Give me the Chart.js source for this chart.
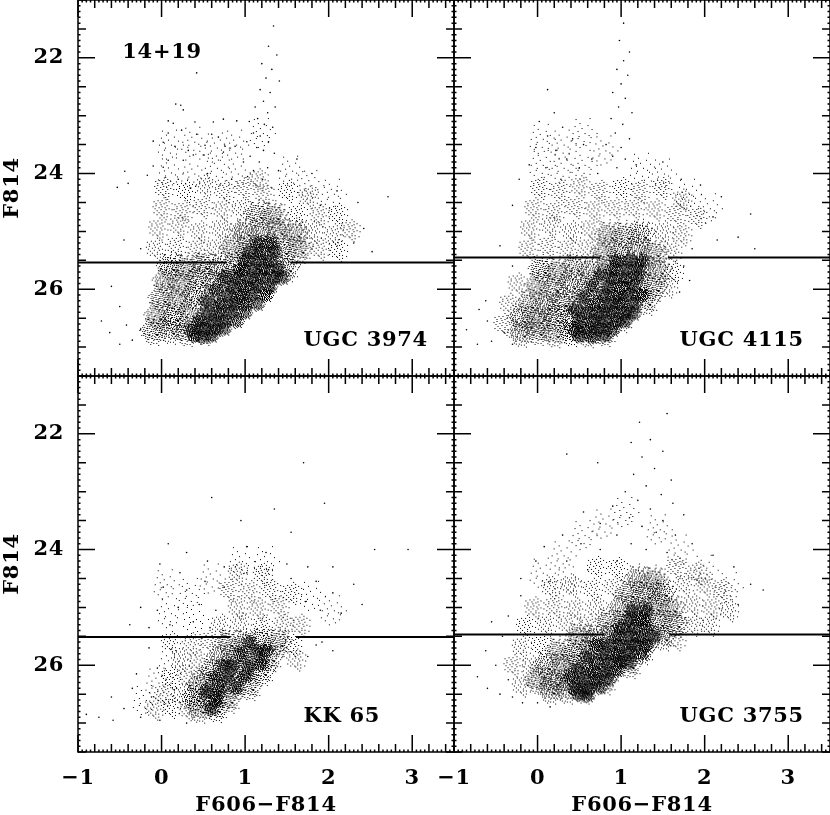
<!DOCTYPE html>
<html>
<head>
<meta charset="utf-8">
<title>F606-F814 vs F814</title>
<script src="https://cdn.jsdelivr.net/npm/chart.js@4"></script>
<style>
  html, body { margin: 0; background: #fff; }
  #wrap { position: relative; width: 830px; height: 815px; overflow: hidden; }
  canvas { position: absolute; left: 0; top: 0; }
</style>
</head>
<body>
<div id="wrap">
  <canvas id="c0" width="830" height="815"></canvas>
  <canvas id="c1" width="830" height="815"></canvas>
  <canvas id="c2" width="830" height="815"></canvas>
  <canvas id="c3" width="830" height="815"></canvas>
</div>
<script>
const xTickLabels = [-1, 0, 1, 2, 3];
const yTickLabels = [22, 24, 26];
const xTitle = "F606\u2212F814";
const yTitle = "F814";

// single stars, [colour, mag]
const dotsUGC3974 = [[1.34,21.45],[1.28,21.8],[1.38,21.95],[1.2,22.1],[1.32,22.2],[1.25,22.35],[1.41,22.4],[1.18,22.55],[1.3,22.6],[1.22,22.75],[1.12,22.85],[1.36,22.85],[1.27,22.95],[1.15,23.05],[1.05,23.1],[1.23,23.15],[1.33,23.2],[1.1,23.3],[1.18,23.35],[1.02,23.45],[1.28,23.45],[1.14,23.55],[1.22,23.6],[1.06,23.7],[1.35,23.65],[0.98,23.8],[1.17,23.8],[1.27,23.9],[1.1,23.95],[1.4,23.95],[1.03,24.05],[1.21,24.1],[1.13,24.2],[1.32,24.25],[0.42,22.26],[0.17,22.8],[0.23,22.82],[0.26,22.9],[0.08,23.09],[0.14,23.13],[0.4,23.11],[0.62,23.11],[0.74,23.06],[0.9,23.09],[0.08,23.3],[0.24,23.25],[0.42,23.32],[0.6,23.32],[0.68,23.37],[-0.1,23.44],[0.02,23.46],[0.16,23.53],[0.32,23.6],[0.52,23.51],[0.76,23.53],[0.88,23.53],[0.38,23.68],[0.5,23.68],[0.08,23.77],[-0.1,23.87],[0.26,23.77],[0.02,23.89],[-0.44,23.96],[-0.17,24.03],[-0.4,24.17],[-0.53,24.24],[0.55,24],[0.7,24.2],[0.2,24.1],[0.35,24.25],[0.84,24.1],[2.71,24.4],[2.35,24.5],[2.1,24.3],[1.8,24],[1.62,23.75],[1.9,24.55],[2.42,24.95],[2.3,25.2],[2.52,25.35],[-0.45,25.15],[-0.25,25.3],[-0.6,25.95],[-0.5,26.3],[-0.72,26.55],[-0.62,26.75],[-0.42,26.62],[-0.35,26.88],[-0.5,26.95],[-0.25,26.7]];
const sparseUGC3974 = [[0.1,23.5],[0.38,23.45],[0.65,23.55],[0.88,23.5],[0.1,23.98],[0.38,24],[0.65,23.9],[0.9,24],[1.2,23.3],[1.55,23.95],[1.78,24.2],[2.05,24.35]];
const faintUGC3974 = [[0.02,24.25],[0.28,24.3],[0.52,24.22],[0.75,24.3],[0.98,24.25],[1.22,24.35],[1.5,24.3],[1.75,24.4],[0,24.6],[0.25,24.65],[0.48,24.58],[0.72,24.62],[0.95,24.6],[1.62,24.7],[1.88,24.72],[2.1,24.7],[-0.05,24.95],[0.2,24.9],[0.45,25],[0.7,24.95],[0.88,25],[1.8,25],[2.05,25.05],[2.25,24.98],[-0.08,25.3],[0.17,25.25],[0.42,25.3],[0.65,25.28],[1.88,25.3],[2.1,25.32],[1.15,24.1]];
const midUGC3974 = [[-0.1,26.72],[0.1,26.7],[0.3,26.74],[0.5,26.72],[-0.05,26.45],[0.15,26.48],[0.35,26.42],[0.55,26.47],[0.75,26.45],[0,26.15],[0.2,26.18],[0.4,26.12],[0.6,26.16],[0.8,26.14],[1,26.15],[0.05,25.85],[0.25,25.88],[0.45,25.82],[0.65,25.86],[0.85,25.84],[1.05,25.85],[1.25,25.88],[0.1,25.6],[0.3,25.62],[0.5,25.58],[0.7,25.62],[0.9,25.6],[1.1,25.58],[1.3,25.62],[1.5,25.62],[0.85,25.3],[1.05,25.32],[1.25,25.28],[1.45,25.32],[1.65,25.3],[1,25],[1.2,25.02],[1.4,24.98],[1.6,25.02],[1.15,24.7],[1.35,24.72]];
const darkUGC3974 = [[0.4,26.8],[0.5,26.82],[0.6,26.8],[0.35,26.7],[0.5,26.68],[0.65,26.7],[0.75,26.68],[0.45,26.55],[0.6,26.56],[0.75,26.54],[0.9,26.55],[0.55,26.4],[0.7,26.42],[0.85,26.38],[1,26.4],[0.7,26.25],[0.85,26.26],[1,26.24],[1.15,26.25],[0.8,26.1],[0.95,26.12],[1.1,26.08],[1.25,26.1],[0.85,25.95],[1,25.96],[1.15,25.94],[1.3,25.95],[0.9,25.8],[1.05,25.82],[1.2,25.78],[1.35,25.8],[1.45,25.8],[0.95,25.65],[1.1,25.66],[1.25,25.64],[1.4,25.65],[1,25.5],[1.15,25.5],[1.3,25.52],[1.05,25.35],[1.2,25.36],[1.35,25.34],[1.15,25.2],[1.3,25.2],[0.55,26.2],[0.65,26],[0.75,25.8]];

const dotsUGC4115 = [[1.03,21.4],[0.98,21.7],[1.1,21.9],[1.03,22.05],[0.95,22.2],[1.08,22.3],[1.0,22.45],[0.9,22.6],[1.05,22.7],[0.97,22.85],[1.13,22.95],[0.88,23.05],[1.02,23.15],[0.93,23.3],[1.1,23.4],[0.82,23.5],[1,23.55],[0.9,23.7],[1.05,23.75],[1.18,23.85],[0.95,23.9],[0.12,22.55],[0.2,22.95],[0.02,23.1],[0.3,23.2],[0.12,23.35],[0.42,23.4],[-0.02,23.55],[0.22,23.6],[0.55,23.5],[0.35,23.75],[-0.1,23.85],[0.1,23.9],[0.5,23.9],[0.65,23.75],[0.72,24],[-0.22,24.1],[0.28,24.1],[-0.3,24.55],[1.5,23.8],[1.72,24.1],[1.95,24.2],[2.2,24.4],[2.55,24.7],[2.1,24.75],[2.4,25.1],[2.15,25.15],[1.85,25.3],[2.6,25.3],[-0.45,25.25],[-0.3,25.6],[-0.7,26.35],[-0.85,26.7],[-0.6,26.55],[-0.55,26.9],[-0.4,26.75],[-0.72,26.95],[-0.3,26.95],[-0.62,26.2],[1.75,25.6],[1.82,25.85],[1.7,26.05]];
const sparseUGC4115 = [[0.05,23.4],[0.3,23.5],[0.55,23.3],[0.8,23.6],[0.05,23.85],[0.3,23.9],[0.55,23.85],[1.25,23.9],[1.5,24],[1.8,24.35],[2.05,24.6]];
const faintUGC4115 = [[0.02,24.25],[0.26,24.3],[0.5,24.22],[0.74,24.3],[1,24.25],[1.22,24.3],[1.48,24.25],[1.72,24.45],[-0.05,24.6],[0.2,24.65],[0.44,24.58],[0.68,24.62],[0.92,24.6],[1.15,24.6],[1.4,24.62],[1.65,24.7],[1.9,24.75],[-0.1,24.95],[0.15,24.9],[0.4,25],[0.62,24.95],[1.5,25],[1.72,25.05],[-0.12,25.3],[0.12,25.25],[0.36,25.3],[0.6,25.28],[1.6,25.35],[-0.25,25.9],[-0.35,26.25],[-0.42,26.6],[1.62,25.7],[1.55,25.95]];
const midUGC4115 = [[-0.2,26.75],[0,26.72],[0.2,26.76],[0.4,26.74],[0.6,26.76],[0.8,26.74],[-0.2,26.5],[0,26.52],[0.2,26.48],[0.4,26.5],[0.6,26.5],[0.8,26.52],[1,26.5],[-0.1,26.25],[0.1,26.28],[0.3,26.22],[0.5,26.26],[0.7,26.24],[0.9,26.26],[1.1,26.24],[1.3,26.2],[0,25.95],[0.2,25.98],[0.4,25.92],[0.6,25.96],[0.8,25.94],[1,25.96],[1.2,25.94],[1.4,25.96],[0.05,25.65],[0.25,25.68],[0.45,25.62],[0.65,25.66],[0.85,25.64],[1.05,25.66],[1.25,25.64],[1.45,25.66],[0.8,25.35],[1,25.37],[1.2,25.33],[1.4,25.36],[0.85,25.05],[1.05,25.06],[1.25,25.04]];
const darkUGC4115 = [[0.5,26.8],[0.65,26.82],[0.8,26.8],[0.45,26.7],[0.6,26.72],[0.75,26.68],[0.9,26.7],[0.5,26.55],[0.65,26.56],[0.8,26.54],[0.95,26.56],[1.05,26.54],[0.6,26.4],[0.75,26.42],[0.9,26.38],[1.05,26.4],[1.15,26.42],[0.7,26.25],[0.85,26.26],[1,26.24],[1.15,26.25],[0.8,26.1],[0.95,26.12],[1.1,26.08],[1.25,26.1],[0.85,25.95],[1,25.96],[1.15,25.94],[0.9,25.8],[1.05,25.82],[1.2,25.78],[0.9,25.65],[1.05,25.66],[1.2,25.64],[0.95,25.5],[1.1,25.5],[1.25,25.52],[0.45,26.35],[0.55,26.15],[0.65,25.95],[0.75,25.75]];

const dotsKK65 = [[1.7,22.5],[0.6,23.1],[1.95,23.2],[1.35,23.3],[0.95,23.5],[1.55,23.7],[0.08,23.9],[0.3,24.05],[0.55,24.2],[-0.02,24.25],[0.22,24.4],[0.75,24.3],[1.02,23.95],[1.25,24.05],[1.5,24.25],[1.75,24.3],[2.05,24.3],[2.55,24],[2.95,24],[2.3,24.6],[2.05,24.75],[1.85,24.55],[2.4,24.95],[2.15,25.1],[1.9,25.05],[0.02,24.65],[0.3,24.7],[0.52,24.55],[0.75,24.65],[-0.25,25],[-0.05,25.05],[0.2,25],[0.45,24.95],[0.65,25.05],[-0.38,25.3],[-0.15,25.35],[0.1,25.3],[0.38,25.25],[0.58,25.35],[1.92,25.6],[2.05,25.75],[1.75,25.85],[1.85,25.65],[-0.15,25.7],[0.12,25.72],[-0.3,26.15],[-0.05,26.05],[-0.6,26.55],[-0.75,26.9],[-0.9,26.85],[-0.45,26.75],[-0.58,26.95],[-0.35,26.4],[-0.25,26.9],[-0.12,26.55],[-0.02,26.95],[0.18,26.4],[0.3,27.0],[1.72,24.9],[1.02,24.4],[1.28,24.35],[1.55,24.5]];
const sparseKK65 = [[0.05,24.6],[0.35,24.75],[0.6,24.5],[0.1,25.1],[0.4,25.2],[1.8,24.8],[2.05,25.05],[0.95,24.2],[1.25,24.2],[-0.2,26.6],[-0.05,26.3],[0.1,26]];
const faintKK65 = [[-0.1,26.75],[0.1,26.72],[0.3,26.76],[0.02,26.5],[0.22,26.52],[0.1,26.22],[0.3,26.2],[0.5,26.22],[0.22,25.9],[0.42,25.92],[0.1,25.6],[0.35,25.62],[0.55,25.58],[1.55,25.65],[1.6,25.9],[0.7,25.3],[0.95,25.28],[1.2,25.32],[1.45,25.3],[1.65,25.3],[0.9,25],[1.15,25.02],[1.4,24.98],[0.8,24.7],[1.05,24.72],[1.3,24.7],[1.55,24.75],[0.9,24.4],[1.2,24.42]];
const midKK65 = [[0.45,26.75],[0.65,26.74],[0.4,26.55],[0.6,26.55],[0.8,26.58],[0.45,26.35],[0.65,26.38],[0.85,26.34],[1.05,26.36],[0.6,26.1],[0.8,26.12],[1,26.08],[1.2,26.1],[0.7,25.85],[0.9,25.86],[1.1,25.84],[1.3,25.86],[0.8,25.6],[1,25.62],[1.2,25.58],[1.4,25.6]];
const darkKK65 = [[0.65,26.6],[0.7,26.4],[0.9,26.38],[0.8,26.2],[1,26.18],[0.85,26],[1.05,26.02],[1.2,25.98],[0.95,25.8],[1.15,25.78],[1.05,25.6],[0.6,26.75],[0.55,26.45],[0.65,26.2],[0.75,26],[1.25,25.75]];

const dotsUGC3755 = [[1.55,21.65],[1.22,21.8],[1.35,22.1],[1.12,22.15],[1.5,22.3],[1.25,22.4],[0.35,22.35],[1.4,22.6],[1.15,22.7],[1.6,22.8],[0.72,22.5],[1.3,22.9],[1.05,23],[1.48,23.05],[1.2,23.15],[1.62,23.2],[0.9,23.25],[1.35,23.3],[0.55,23.35],[1.75,23.4],[1.1,23.45],[1.5,23.5],[0.75,23.55],[1.25,23.6],[1.42,23.7],[0.3,23.75],[0.95,23.75],[1.65,23.75],[0.52,23.9],[1.12,23.9],[1.85,23.9],[0.08,23.95],[0.75,24],[1.3,24],[1.55,24.05],[2.1,24.1],[-0.02,24.2],[0.35,24.2],[0.95,24.2],[1.75,24.25],[2.35,24.3],[0.6,24.35],[-0.2,24.5],[0.15,24.55],[2.55,24.6],[2.7,24.7],[2.4,24.95],[-0.2,24.8],[-0.35,25.15],[-0.55,25.25],[-0.42,25.5],[-0.62,25.75],[-0.72,26.2],[-0.5,26],[-0.6,26.4],[-0.45,26.5],[-0.3,26.55],[-0.35,26.25],[-0.18,26.65],[0,26.65],[0.15,26.72],[-0.12,26.35]];
const sparseUGC3755 = [[0.3,24.1],[0.55,23.75],[0.8,23.55],[1.05,23.35],[1.45,23.65],[1.7,24],[0.05,24.4],[0.35,24.55],[2,24.35],[2.3,24.65]];
const faintUGC3755 = [[0.7,24.3],[0.95,24.32],[1.65,24.3],[1.9,24.4],[0.15,24.65],[0.4,24.62],[0.65,24.68],[0.9,24.65],[1.75,24.6],[2,24.62],[2.2,24.7],[-0.05,25],[0.2,24.98],[0.45,25.02],[0.7,25],[1.85,24.95],[2.08,25],[2.28,25.05],[-0.15,25.32],[0.1,25.3],[0.35,25.28],[0.6,25.3],[1.85,25.3],[2.05,25.3],[-0.2,25.68],[0.03,25.65],[-0.3,26],[-0.08,26.02],[-0.2,26.35],[1.65,25.55]];
const midUGC3755 = [[0.15,26.42],[0.35,26.42],[0.55,26.42],[0,26.25],[0.2,26.27],[0.4,26.23],[0.6,26.25],[0.8,26.26],[0.1,26],[0.3,26.02],[0.5,25.98],[0.7,26],[0.9,26.02],[1.1,25.98],[0.25,25.75],[0.45,25.77],[0.65,25.73],[0.85,25.75],[1.05,25.77],[1.25,25.74],[0.5,25.5],[0.7,25.52],[0.9,25.48],[1.1,25.5],[1.3,25.52],[1.5,25.5],[0.85,25.25],[1.05,25.27],[1.25,25.23],[1.45,25.25],[1.65,25.27],[1,25],[1.2,25.02],[1.4,24.98],[1.6,25],[1.1,24.75],[1.3,24.77],[1.5,24.73],[1.2,24.5],[1.4,24.52]];
const darkUGC3755 = [[0.5,26.5],[0.6,26.52],[0.45,26.4],[0.6,26.42],[0.75,26.38],[0.55,26.25],[0.7,26.26],[0.85,26.24],[0.65,26.1],[0.8,26.12],[0.95,26.08],[0.7,25.95],[0.85,25.96],[1,25.94],[1.1,25.95],[0.8,25.8],[0.95,25.82],[1.1,25.78],[1.25,25.8],[0.85,25.65],[1,25.66],[1.15,25.64],[1.3,25.65],[0.95,25.5],[1.1,25.5],[1.25,25.52],[1.4,25.5],[1,25.35],[1.15,25.36],[1.3,25.34],[1.1,25.2],[1.25,25.2],[1.15,25.05],[1.3,25.05],[0.4,26.2],[0.5,26.05],[0.6,25.85],[0.7,25.65]];

// the drawn cut line, broken where the stars hide it
const lineUGC3974 = [[-1,25.54],[0.78,25.54],[1.2,null],[1.54,25.54],[3.5,25.54]];
const lineUGC4115 = [[-1,25.45],[0.75,25.45],[1.2,null],[1.56,25.45],[3.5,25.45]];
const lineKK65 = [[-1,25.51],[0.82,25.51],[1.2,null],[1.61,25.51],[3.5,25.51]];
const lineUGC3755 = [[-1,25.47],[0.8,25.47],[1.2,null],[1.58,25.47],[3.5,25.47]];

// stipple stamps for the crowded parts, too many stars to place one by one
const sparseRows = [
  "...#....................",
  "..............#.........",
  "........................",
  "........#...............",
  "....................#...",
  "..#.....................",
  "............#...........",
  "........................",
  "......................#.",
  ".......#................",
  "................#.......",
  "........................",
  "#.......................",
  "...........#............",
  "........................",
  "..................#.....",
  "....#...................",
  "........................",
  "..............#.........",
  "........................",
  ".........#...........#..",
  "........................",
  ".#......................",
  "...............#........"
];
const faintRows = [
  "...#.........#......",
  "........#.........#.",
  ".#.............#....",
  "......#....#........",
  "..#..............#..",
  ".........#...#......",
  "#....#..............",
  "...........#.....#..",
  "...#...#.......#....",
  "............#.......",
  ".#.....#..........#.",
  "....#........#......",
  "..........#.....#...",
  "#.....#.............",
  "...#........#....#..",
  "........#...........",
  ".#.............#....",
  ".....#....#.........",
  "...............#..#.",
  "..#.....#...#......."
];
const midRows = [
  "#...#.#....##..#...#",
  "..#.....#.....#..#..",
  ".#..##....#.#.....#.",
  "......#.#.....##....",
  "#.#.......##.....#.#",
  "...##.#.......#.#...",
  ".#.....#.#.#.......#",
  "....#......#.##.#...",
  "##....#.#.......#..#",
  "...#.....#.#.#......",
  ".#...##.......#..##.",
  "..#.......#.#....#..",
  "#....#.#.......#....",
  "..##.....##.#....#.#",
  "......#.......#.#...",
  "#.#.#...#.#.......#.",
  ".....#.#.....##.#...",
  ".##.......#.#.....#.",
  "....#.##.......#.#..",
  "#.......#.#.#.....##"
];
const darkRows = [
  "#.##.#.##.#.#.",
  ".#..#.#..#.#.#",
  "#.#.##.#.#.#.#",
  ".##.#.#.##.#.#",
  "#.#.#.##.#.##.",
  ".#.##.#.#.#.#.",
  "##.#.#.#.##.#.",
  ".#.#.##.#.#.##",
  "#.#.#.#.##.#.#",
  ".##.#.#.#.#.#.",
  "#.#.##.#.#.##.",
  ".#.#.#.##.#.#.",
  "#.##.#.#.#.#.#",
  ".#.#.#.#.##.#."
];

// tile rows into a round stamp with a thinning rim, so neighbours blend
function makeStamp(rows, size) {
  const c = document.createElement("canvas");
  c.width = c.height = size;
  const g = c.getContext("2d");
  g.fillStyle = "#000";
  const h = rows.length, w = rows[0].length, r = size / 2;
  for (let j = 0; j < size; j++) {
    for (let i = 0; i < size; i++) {
      if (rows[j % h][i % w] !== "#") continue;
      const d = Math.hypot(i + 0.5 - r, j + 0.5 - r) / r;
      if (d > 1) continue;
      if (d > 0.55 && ((i * 17 + j * 31) % 23) / 23 < (d - 0.55) / 0.45) continue;
      g.fillRect(i, j, 1, 1);
    }
  }
  return c;
}
const sparseStamp = makeStamp(sparseRows, 40);
const faintStamp = makeStamp(faintRows, 26);
const midStamp = makeStamp(midRows, 32);
const darkStamp = makeStamp(darkRows, 18);

const font = { family: "'DejaVu Serif'", size: 21, weight: "bold" };

function stepTicks(min, max, step) {
  const out = [];
  const n = Math.round((max - min) / step);
  for (let i = 0; i <= n; i++) out.push({ value: +(min + i * step).toFixed(3) });
  return out;
}
const isStep = (v, s) => Math.abs(v / s - Math.round(v / s)) < 1e-6;

function noPadding(s) {
  s.paddingLeft = s.paddingRight = s.paddingTop = s.paddingBottom = 0;
}

// inward ticks + box, PGPLOT style. Each panel draws its own so the inner axes get both sides
const frame = {
  id: "frame",
  beforeDraw(chart) { chart.ctx.letterSpacing = "0.7px"; },
  afterDatasetsDraw(chart) {
    const { ctx, chartArea: a, scales: { x, y } } = chart;
    ctx.save();
    ctx.strokeStyle = "#000";
    ctx.lineWidth = 1.5;
    ctx.strokeRect(a.left, a.top, a.right - a.left, a.bottom - a.top);
    ctx.beginPath();
    x.ticks.forEach(t => {
      const len = isStep(t.value, 1) ? 17 : isStep(t.value, 0.2) ? 8 : 2.5;
      const p = x.getPixelForValue(t.value);
      ctx.moveTo(p, a.top); ctx.lineTo(p, a.top + len);
      ctx.moveTo(p, a.bottom); ctx.lineTo(p, a.bottom - len);
    });
    y.ticks.forEach(t => {
      const len = isStep(t.value, 2) ? 17 : isStep(t.value, 0.5) ? 8 : 2.5;
      const p = y.getPixelForValue(t.value);
      ctx.moveTo(a.left, p); ctx.lineTo(a.left + len, p);
      ctx.moveTo(a.right, p); ctx.lineTo(a.right - len, p);
    });
    ctx.stroke();
    ctx.fillStyle = "#000";
    ctx.font = "bold " + font.size + "px " + font.family;
    ctx.textBaseline = "middle";
    chart.options.plugins.frame.notes.forEach(n => {
      ctx.fillText(n.text, x.getPixelForValue(n.x), y.getPixelForValue(n.y));
    });
    ctx.restore();
  }
};

function panel(id, col, row, data) {
  const left = col === 0;
  const bottom = row === 1;
  new Chart(document.getElementById(id), {
    type: "scatter",
    data: {
      datasets: [
        { data: data.line, showLine: true, borderColor: "#000", borderWidth: 2, pointRadius: 0, spanGaps: false },
        { data: data.sparse, pointStyle: sparseStamp },
        { data: data.faint, pointStyle: faintStamp },
        { data: data.mid, pointStyle: midStamp },
        { data: data.dark, pointStyle: darkStamp },
        { data: data.dots, pointStyle: "circle", pointRadius: 0.8, backgroundColor: "#000", borderWidth: 0 }
      ]
    },
    options: {
      responsive: false,
      animation: false,
      events: [],
      layout: {
        autoPadding: false,
        padding: { left: left ? 0 : 454, right: left ? 376 : 0, top: bottom ? 376 : 0, bottom: bottom ? 0 : 439 }
      },
      plugins: { legend: { display: false }, tooltip: { enabled: false }, frame: { notes: data.notes } },
      scales: {
        x: {
          type: "linear", min: -1, max: 3.5,
          grid: { display: false, drawTicks: false },
          border: { display: false },
          afterBuildTicks: s => { s.ticks = stepTicks(-1, 3.5, 0.05); },
          afterFit: s => { s.height = bottom ? 63 : 0; noPadding(s); },
          ticks: {
            display: bottom, autoSkip: false, maxRotation: 0, padding: 14, color: "#000", font,
            callback: v => xTickLabels.includes(v) ? String(v).replace("-", "\u2212") : ""
          },
          title: { display: bottom, text: xTitle, color: "#000", font, padding: { top: 0, bottom: -3 } }
        },
        y: {
          type: "linear", min: 21, max: 27.5, reverse: true,
          grid: { display: false, drawTicks: false },
          border: { display: false },
          afterBuildTicks: s => { s.ticks = stepTicks(21, 27.5, 0.1); },
          afterFit: s => { s.width = left ? 78 : 0; noPadding(s); },
          ticks: {
            display: left, autoSkip: false, padding: 14, color: "#000", font,
            callback: v => yTickLabels.includes(v) ? String(v) : ""
          },
          title: { display: left, text: yTitle, color: "#000", font, padding: { top: 0, bottom: 0 } }
        }
      }
    },
    plugins: [frame]
  });
}

panel("c0", 0, 0, { dots: dotsUGC3974, sparse: sparseUGC3974, faint: faintUGC3974, mid: midUGC3974, dark: darkUGC3974, line: lineUGC3974,
  notes: [{ text: "14+19", x: -0.47, y: 21.9 }, { text: "UGC 3974", x: 1.7, y: 26.88 }] });
panel("c1", 1, 0, { dots: dotsUGC4115, sparse: sparseUGC4115, faint: faintUGC4115, mid: midUGC4115, dark: darkUGC4115, line: lineUGC4115,
  notes: [{ text: "UGC 4115", x: 1.7, y: 26.88 }] });
panel("c2", 0, 1, { dots: dotsKK65, sparse: sparseKK65, faint: faintKK65, mid: midKK65, dark: darkKK65, line: lineKK65,
  notes: [{ text: "KK 65", x: 1.7, y: 26.88 }] });
panel("c3", 1, 1, { dots: dotsUGC3755, sparse: sparseUGC3755, faint: faintUGC3755, mid: midUGC3755, dark: darkUGC3755, line: lineUGC3755,
  notes: [{ text: "UGC 3755", x: 1.7, y: 26.88 }] });
</script>
</body>
</html>
